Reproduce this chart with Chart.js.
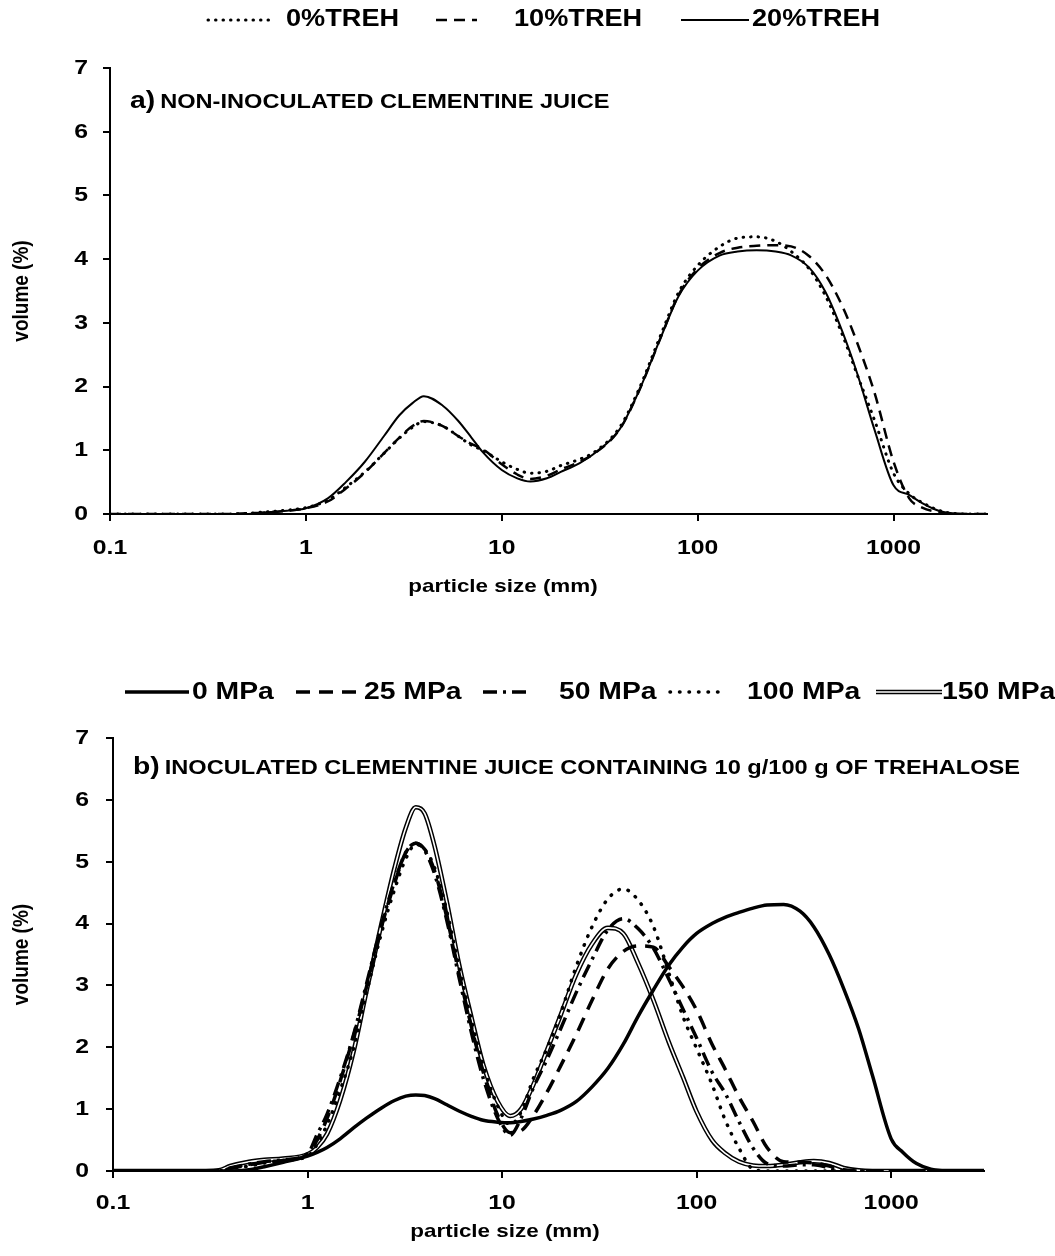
<!DOCTYPE html>
<html>
<head>
<meta charset="utf-8">
<script src="https://cdn.jsdelivr.net/npm/chart.js@4.4.0/dist/chart.umd.min.js"></script>
<style>
body { margin: 0; background: #fff; width: 1055px; height: 1256px; overflow: hidden; position: relative; }
.box { position: absolute; left: 0; width: 1055px; }
#boxA { top: 0; height: 620px; }
#boxB { top: 620px; height: 636px; }
</style>
</head>
<body>
<div class="box" id="boxA"><canvas id="chartA"></canvas></div>
<div class="box" id="boxB"><canvas id="chartB"></canvas></div>
<script>
// ---- data: particle size (x) and volume % (y) ----
const xTicks = [0.1, 1, 10, 100, 1000];
const yTicks = [0, 1, 2, 3, 4, 5, 6, 7];

// a) non-inoculated juice
const sizesA = [0.1, 0.2, 0.3, 0.4, 0.5, 0.6, 0.8, 1, 1.3, 1.6, 2, 2.5, 3, 3.5, 4, 5, 6, 7, 8, 10, 12, 14, 17, 20, 25, 30, 40, 50, 65, 80, 100, 130, 160, 200, 250, 300, 370, 450, 550, 650, 800, 1000, 1200, 1400, 1700, 2000, 2500, 3000];
const treh0 = [0, 0, 0, 0, 0.01, 0.03, 0.06, 0.1, 0.22, 0.42, 0.66, 0.95, 1.19, 1.36, 1.45, 1.38, 1.22, 1.08, 1.0, 0.82, 0.7, 0.64, 0.67, 0.76, 0.86, 0.98, 1.36, 1.95, 2.82, 3.48, 3.9, 4.2, 4.33, 4.35, 4.28, 4.12, 3.85, 3.42, 2.8, 2.2, 1.47, 0.64, 0.32, 0.18, 0.06, 0.01, 0, 0];
const treh10 = [0, 0, 0, 0, 0.01, 0.02, 0.05, 0.09, 0.2, 0.4, 0.65, 0.95, 1.2, 1.38, 1.46, 1.38, 1.22, 1.1, 1.02, 0.78, 0.62, 0.55, 0.6, 0.7, 0.82, 0.96, 1.33, 1.92, 2.78, 3.44, 3.85, 4.1, 4.18, 4.21, 4.22, 4.2, 4.05, 3.75, 3.25, 2.7, 1.9, 0.82, 0.25, 0.1, 0.03, 0, 0, 0];
const treh20 = [0, 0, 0, 0, 0, 0.02, 0.05, 0.09, 0.25, 0.5, 0.82, 1.22, 1.55, 1.74, 1.85, 1.7, 1.46, 1.2, 0.97, 0.69, 0.56, 0.51, 0.56, 0.66, 0.8, 0.96, 1.33, 1.92, 2.78, 3.42, 3.82, 4.06, 4.12, 4.14, 4.12, 4.06, 3.87, 3.48, 2.85, 2.22, 1.32, 0.45, 0.3, 0.17, 0.05, 0.01, 0, 0];

// b) inoculated juice, 10 g/100 g trehalose
const sizesB = [0.1, 0.2, 0.3, 0.35, 0.4, 0.5, 0.6, 0.75, 1, 1.12, 1.26, 1.47, 1.73, 2, 2.4, 2.8, 3.2, 3.6, 4, 4.5, 5.2, 6, 7, 8, 9.5, 11, 12.5, 14.5, 17, 20, 24, 29, 35, 42, 50, 60, 72, 85, 100, 120, 140, 165, 195, 230, 280, 340, 400, 480, 570, 680, 800, 1000, 1150, 1350, 1600, 2000, 3000];
const mpa0 = [0, 0, 0, 0, 0, 0.02, 0.07, 0.14, 0.24, 0.3, 0.38, 0.52, 0.7, 0.85, 1.02, 1.14, 1.21, 1.23, 1.22, 1.17, 1.07, 0.97, 0.88, 0.82, 0.79, 0.78, 0.8, 0.84, 0.9, 0.98, 1.12, 1.36, 1.66, 2.05, 2.5, 2.93, 3.33, 3.62, 3.84, 4.0, 4.1, 4.18, 4.25, 4.3, 4.31, 4.2, 3.95, 3.5, 2.95, 2.3, 1.55, 0.52, 0.3, 0.12, 0.03, 0, 0];
const mpa25 = [0, 0, 0, 0, 0.04, 0.1, 0.14, 0.17, 0.27, 0.5, 0.85, 1.45, 2.2, 2.95, 3.95, 4.65, 5.15, 5.3, 5.2, 4.85, 4.1, 3.2, 2.3, 1.6, 0.9, 0.62, 0.65, 0.9, 1.27, 1.7, 2.2, 2.76, 3.27, 3.55, 3.64, 3.62, 3.3, 2.98, 2.6, 2.05, 1.65, 1.2, 0.8, 0.38, 0.15, 0.14, 0.13, 0.08, 0.02, 0, 0, 0, 0, 0, 0, 0, 0];
const mpa50 = [0, 0, 0, 0, 0.05, 0.11, 0.15, 0.18, 0.28, 0.59, 0.92, 1.5, 2.22, 3.0, 3.98, 4.68, 5.15, 5.3, 5.18, 4.8, 4.05, 3.14, 2.2, 1.5, 0.85, 0.58, 0.85, 1.35, 1.8, 2.3, 2.88, 3.42, 3.9, 4.08, 3.92, 3.6, 3.1, 2.62, 2.15, 1.6, 1.26, 0.8, 0.37, 0.12, 0.08, 0.1, 0.1, 0.05, 0, 0, 0, 0, 0, 0, 0, 0, 0];
const mpa100 = [0, 0, 0, 0, 0.04, 0.08, 0.13, 0.17, 0.24, 0.43, 0.75, 1.3, 2.0, 2.85, 3.85, 4.55, 5.05, 5.28, 5.2, 4.9, 4.2, 3.3, 2.4, 1.7, 1.05, 0.75, 0.95, 1.5, 1.98, 2.55, 3.3, 3.95, 4.4, 4.56, 4.38, 3.95, 3.2, 2.5, 1.98, 1.4, 0.83, 0.37, 0.03, 0, 0, 0, 0, 0, 0, 0, 0, 0, 0, 0, 0, 0, 0];
const mpa150 = [0, 0, 0, 0.01, 0.08, 0.15, 0.18, 0.2, 0.27, 0.38, 0.6, 1.14, 1.95, 2.88, 4.0, 4.9, 5.55, 5.88, 5.78, 5.25, 4.35, 3.35, 2.45, 1.72, 1.12, 0.89, 1.0, 1.4, 1.95, 2.52, 3.17, 3.67, 3.93, 3.84, 3.36, 2.76, 2.08, 1.52, 0.96, 0.5, 0.29, 0.15, 0.09, 0.08, 0.1, 0.14, 0.16, 0.13, 0.05, 0.01, 0, 0, 0, 0, 0, 0, 0];

const FONT = '"Liberation Sans", Arial, sans-serif';
const STRETCH = 1.18; // the source figure's text is a bit wider than Arial

function pts(xs, ys) {
    return xs.map((x, i) => ({ x: x, y: ys[i] }));
}

function wideText(ctx, text, x, y, size, align) {
    ctx.save();
    ctx.font = 'bold ' + size + 'px ' + FONT;
    ctx.fillStyle = '#000';
    ctx.textAlign = align || 'left';
    ctx.textBaseline = 'middle';
    ctx.translate(x, y);
    ctx.scale(STRETCH, 1);
    ctx.fillText(text, 0, 0);
    const w = ctx.measureText(text).width * STRETCH;
    ctx.restore();
    return w;
}

function drawSample(ctx, ds, x1, x2, y) {
    ctx.save();
    ctx.strokeStyle = ds.borderColor;
    ctx.lineWidth = ds.borderWidth;
    ctx.lineCap = ds.borderCapStyle || 'butt';
    ctx.setLineDash(ds.borderDash || []);
    ctx.beginPath();
    ctx.moveTo(x1, y);
    ctx.lineTo(x2, y);
    ctx.stroke();
    ctx.restore();
}

// tick labels, axis titles, panel title and legend
function makeExtras(cfg) {
    return {
        id: 'extras',
        afterDraw(chart) {
            const ctx = chart.ctx;
            const xs = chart.scales.x, ys = chart.scales.y;
            const area = chart.chartArea;
            xTicks.forEach(v => wideText(ctx, String(v), xs.getPixelForValue(v), cfg.xLabelY, 21, 'center'));
            yTicks.forEach(v => wideText(ctx, String(v), cfg.yLabelRight, ys.getPixelForValue(v), 21, 'right'));
            wideText(ctx, 'particle size (mm)', cfg.xTitleX, cfg.xTitleY, 19, 'center');

            ctx.save();
            ctx.font = 'bold 19px ' + FONT;
            ctx.fillStyle = '#000';
            ctx.textAlign = 'center';
            ctx.textBaseline = 'middle';
            ctx.translate(cfg.yTitleX, (area.top + area.bottom) / 2);
            ctx.scale(STRETCH, 1);
            ctx.rotate(-Math.PI / 2);
            ctx.fillText('volume (%)', 0, 0);
            ctx.restore();

            const w = wideText(ctx, cfg.tag, cfg.titleX, cfg.titleY, 24, 'left');
            wideText(ctx, cfg.title, cfg.titleX + w + 5, cfg.titleY + 1, 20, 'left');

            cfg.legend.forEach(item => {
                item.ds.forEach(i => drawSample(ctx, chart.data.datasets[i], item.x1, item.x2, cfg.legendY));
                wideText(ctx, item.label, item.tx, cfg.legendY, cfg.legendSize, 'left');
            });
        }
    };
}

function axisOptions(area, h) {
    const line = {
        display: true,
        drawOnChartArea: false,
        drawTicks: true,
        tickLength: 7,
        color: '#000',
        lineWidth: 2
    };
    return {
        x: {
            type: 'logarithmic',
            min: 0.1,
            max: 3000,
            afterBuildTicks: s => { s.ticks = xTicks.map(v => ({ value: v })); },
            afterFit: s => { s.height = h - area.bottom; },
            ticks: { display: false },
            grid: line,
            border: { display: true, color: '#000', width: 2 }
        },
        y: {
            min: 0,
            max: 7,
            afterBuildTicks: s => { s.ticks = yTicks.map(v => ({ value: v })); },
            afterFit: s => { s.width = area.left; },
            ticks: { display: false },
            grid: line,
            border: { display: true, color: '#000', width: 2 }
        }
    };
}

function lineSet(label, data, width, dash, cap, color) {
    return {
        label: label,
        data: data,
        borderColor: color || '#000',
        borderWidth: width,
        borderDash: dash,
        borderCapStyle: cap || 'butt',
        pointRadius: 0,
        fill: false,
        cubicInterpolationMode: 'monotone'
    };
}

// ---- chart a ----
const areaA = { left: 110, right: 987, top: 68, bottom: 514 };
new Chart(document.getElementById('chartA'), {
    type: 'line',
    data: {
        datasets: [
            lineSet('20%TREH', pts(sizesA, treh20), 2, []),
            lineSet('10%TREH', pts(sizesA, treh10), 2.5, [11, 7]),
            lineSet('0%TREH', pts(sizesA, treh0), 3, [0.5, 7], 'round')
        ]
    },
    options: {
        responsive: true,
        maintainAspectRatio: false,
        animation: false,
        layout: { padding: { top: areaA.top, right: 1055 - areaA.right, left: 0, bottom: 0 } },
        plugins: { legend: { display: false }, tooltip: { enabled: false } },
        scales: axisOptions(areaA, 620)
    },
    plugins: [makeExtras({
        xLabelY: 548, yLabelRight: 88, xTitleX: 503, xTitleY: 587, yTitleX: 22,
        tag: 'a)', title: 'NON-INOCULATED CLEMENTINE JUICE', titleX: 130, titleY: 101,
        legendY: 20, legendSize: 23,
        legend: [
            { ds: [2], x1: 208, x2: 269, tx: 286, label: '0%TREH' },
            { ds: [1], x1: 436, x2: 477, tx: 514, label: '10%TREH' },
            { ds: [0], x1: 681, x2: 749, tx: 752, label: '20%TREH' }
        ]
    })]
});

// ---- chart b ----
const areaB = { left: 113, right: 984, top: 118, bottom: 551 };
new Chart(document.getElementById('chartB'), {
    type: 'line',
    data: {
        datasets: [
            lineSet('0 MPa', pts(sizesB, mpa0), 3.5, []),
            lineSet('25 MPa', pts(sizesB, mpa25), 3.5, [14, 9]),
            lineSet('50 MPa', pts(sizesB, mpa50), 3.5, [14, 6, 3, 6]),
            lineSet('100 MPa', pts(sizesB, mpa100), 3.5, [0.5, 9], 'round'),
            lineSet('150 MPa', pts(sizesB, mpa150), 1.6, [], 'butt', '#fff'),
            lineSet('150 MPa', pts(sizesB, mpa150), 4.6, [])
        ]
    },
    options: {
        responsive: true,
        maintainAspectRatio: false,
        animation: false,
        layout: { padding: { top: areaB.top, right: 1055 - areaB.right, left: 0, bottom: 0 } },
        plugins: { legend: { display: false }, tooltip: { enabled: false } },
        scales: axisOptions(areaB, 636)
    },
    plugins: [makeExtras({
        xLabelY: 583, yLabelRight: 89, xTitleX: 505, xTitleY: 612, yTitleX: 22,
        tag: 'b)', title: 'INOCULATED CLEMENTINE JUICE CONTAINING 10 g/100 g OF TREHALOSE', titleX: 133, titleY: 147,
        legendY: 72, legendSize: 24,
        legend: [
            { ds: [0], x1: 125, x2: 189, tx: 192, label: '0 MPa' },
            { ds: [1], x1: 296, x2: 362, tx: 364, label: '25 MPa' },
            { ds: [2], x1: 483, x2: 532, tx: 559, label: '50 MPa' },
            { ds: [3], x1: 670, x2: 726, tx: 747, label: '100 MPa' },
            { ds: [5, 4], x1: 876, x2: 942, tx: 942, label: '150 MPa' }
        ]
    })]
});
</script>
</body>
</html>
